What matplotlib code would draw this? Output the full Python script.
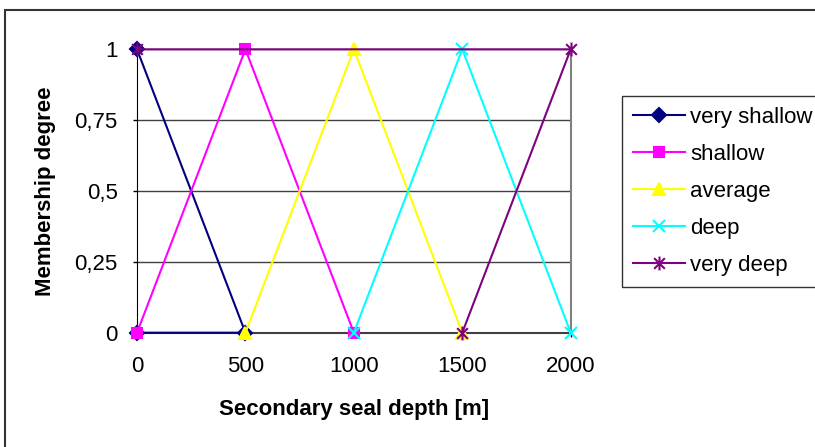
import matplotlib
matplotlib.use("Agg")
import matplotlib.pyplot as plt
from matplotlib.patches import Rectangle
from matplotlib.path import Path

plt.rcParams['font.family'] = ['Liberation Sans', 'DejaVu Sans']

# функции принадлежности по глубине вторичной покрышки
names = ['very shallow', 'shallow', 'average', 'deep', 'very deep']
depth = [
    [0, 500, 0],
    [0, 500, 1000],
    [500, 1000, 1500],
    [1000, 1500, 2000],
    [1500, 2000, 0],
]
degree = [
    [1, 0, 0],
    [0, 1, 0],
    [0, 1, 0],
    [0, 1, 0],
    [0, 1, 1],
]
x_ticks = [0, 500, 1000, 1500, 2000]
y_ticks = [0, 0.25, 0.5, 0.75, 1]
y_tick_labels = ['0', '0,25', '0,5', '0,75', '1']

# звёздочка как в Excel: крест + вертикальная черта
star = Path([(-1, -1), (1, 1), (-1, 1), (1, -1), (0, -1.3), (0, 1.3)],
            [Path.MOVETO, Path.LINETO] * 3)

colors = ['#000080', '#FF00FF', '#FFFF00', '#00FFFF', '#800080']
markers = ['D', 's', '^', 'x', star]
sizes = [7, 7.5, 9, 9, 10]

W, H = 815, 447
fig = plt.figure(figsize=(W / 100, H / 100), dpi=100)
ax = fig.add_axes([137 / W, 1 - 332.7 / H, (570.7 - 137) / W, (332.7 - 49.3) / H])

for i in range(len(names)):
    ax.plot(depth[i], degree[i], color=colors[i], lw=1.5, marker=markers[i],
            ms=sizes[i], mew=1.5, mfc=colors[i], mec=colors[i],
            label=names[i], clip_on=False, zorder=3 + i)

ax.set_xlim(0, 2000)
ax.set_ylim(0, 1)
ax.set_xticks(x_ticks)
ax.set_yticks(y_ticks)
ax.set_yticklabels(y_tick_labels)
ax.tick_params(axis='both', direction='out', length=3, width=1,
               labelsize=16, colors='black')
ax.tick_params(axis='x', pad=14)
ax.tick_params(axis='y', pad=11)

ax.yaxis.grid(True, color='#404040', lw=1)
ax.set_axisbelow(True)
ax.spines['top'].set_visible(False)
ax.spines['right'].set_color('#808080')
ax.spines['right'].set_linewidth(1.5)
ax.spines['left'].set_color('black')
ax.spines['bottom'].set_color('#404040')
ax.spines['bottom'].set_linewidth(1.5)

fig.text(46 / W, 1 - 191 / H, 'Membership degree', rotation=90,
         ha='center', va='center', fontsize=16, fontweight='bold')
fig.text(353.8 / W, 1 - 409 / H, 'Secondary seal depth [m]',
         ha='center', va='center', fontsize=16, fontweight='bold')

leg = fig.legend(loc='upper left', bbox_to_anchor=(621.7 / W, 1 - 96 / H),
                 borderaxespad=0, fontsize=16, frameon=True, fancybox=False,
                 edgecolor='black', handlelength=2.33, handletextpad=0.25,
                 labelspacing=0.72, borderpad=0.5)
leg.get_frame().set_linewidth(1)

# рамка вокруг всей диаграммы
fig.add_artist(Rectangle((5 / W, -0.1), 1.2, 1 - 10 / H + 0.1,
                         transform=fig.transFigure, fill=False,
                         edgecolor='#333333', lw=1.5))

fig.savefig('out.png', dpi=100)
